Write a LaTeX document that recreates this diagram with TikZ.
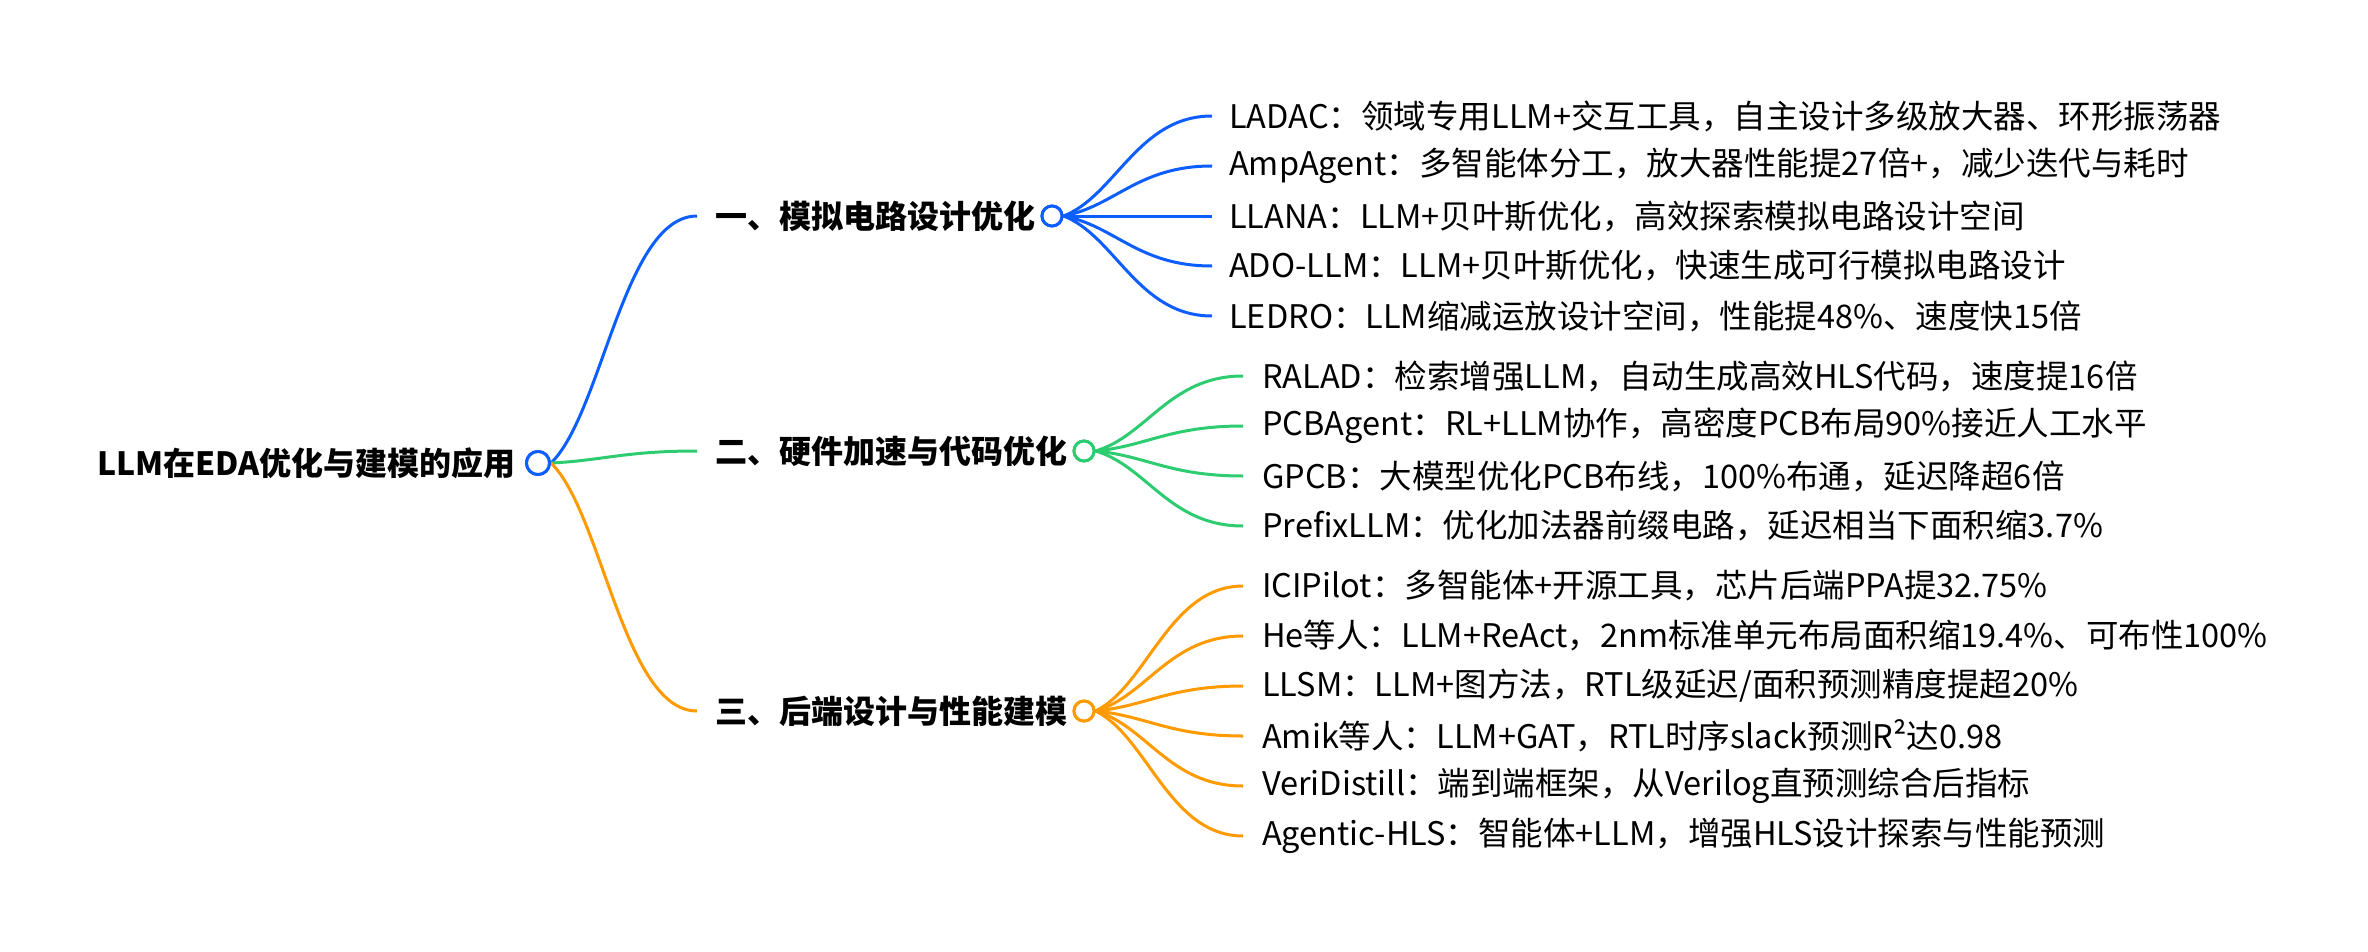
\documentclass[tikz,border=0pt]{standalone}
\usepackage{fontspec}
\setmainfont{Noto Sans CJK SC}
\usetikzlibrary{calc}
\definecolor{mmblue}{HTML}{0D5EFF}
\definecolor{mmgreen}{HTML}{2ECC71}
\definecolor{mmorange}{HTML}{FF9A00}
\newcommand\mmcurve[3]{\draw[#1] let \p1=(#2), \p2=(#3) in (\p1) .. controls ({\x1+0.35*(\x2-\x1)},{\y1+0.2*(\y2-\y1)}) and ({\x1+0.5*(\x2-\x1)},\y2) .. (\p2);}
\tikzset{
  roottext/.style={inner sep=0pt, anchor=east, font=\fontsize{32pt}{38pt}\selectfont\bfseries},
  branchtext/.style={inner sep=0pt, anchor=west, font=\fontsize{32pt}{38pt}\selectfont\bfseries},
  leaftext/.style={inner sep=0pt, anchor=west, font=\fontsize{32.5pt}{38pt}\selectfont},
  knob/.style={circle, draw=#1, fill=white, line width=3pt, minimum size=20pt, inner sep=0pt},
  link/.style={draw=#1, line width=3pt}
}
\begin{document}
\begin{tikzpicture}[x=1pt,y=-1pt]
\useasboundingbox (0,0) rectangle (2368,952);
\fill[white] (0,0) rectangle (2368,952);

% root
\node[knob=mmblue, minimum size=23pt] (rc) at (538,463) {};
\node[roottext] (rt) at (516,463) {LLM在EDA优化与建模的应用};

% branches
\node[branchtext] (b1) at (715,216) {一、模拟电路设计优化};
\node[branchtext] (b2) at (715,451) {二、硬件加速与代码优化};
\node[branchtext] (b3) at (715,711) {三、后端设计与性能建模};

\mmcurve{link=mmblue}{rc.east}{[xshift=-18pt]b1.west}
\mmcurve{link=mmgreen}{rc.east}{[xshift=-18pt]b2.west}
\mmcurve{link=mmorange}{rc.east}{[xshift=-18pt]b3.west}
\node[knob=mmblue, minimum size=23pt] at (538,463) {};

% leaves of branch 1
\node[leaftext] (l11) at (1229,116) {LADAC：领域专用LLM+交互工具，自主设计多级放大器、环形振荡器};
\node[leaftext] (l12) at (1229,166) {AmpAgent：多智能体分工，放大器性能提27倍+，减少迭代与耗时};
\node[leaftext] (l13) at (1229,216) {LLANA：LLM+贝叶斯优化，高效探索模拟电路设计空间};
\node[leaftext] (l14) at (1229,266) {ADO-LLM：LLM+贝叶斯优化，快速生成可行模拟电路设计};
\node[leaftext] (l15) at (1229,316) {LEDRO：LLM缩减运放设计空间，性能提48\%、速度快15倍};

% leaves of branch 2
\node[leaftext] (l21) at (1262,376) {RALAD：检索增强LLM，自动生成高效HLS代码，速度提16倍};
\node[leaftext] (l22) at (1262,426) {PCBAgent：RL+LLM协作，高密度PCB布局90\%接近人工水平};
\node[leaftext] (l23) at (1262,476) {GPCB：大模型优化PCB布线，100\%布通，延迟降超6倍};
\node[leaftext] (l24) at (1262,526) {PrefixLLM：优化加法器前缀电路，延迟相当下面积缩3.7\%};

% leaves of branch 3
\node[leaftext] (l31) at (1262,586) {ICIPilot：多智能体+开源工具，芯片后端PPA提32.75\%};
\node[leaftext] (l32) at (1262,636) {He等人：LLM+ReAct，2nm标准单元布局面积缩19.4\%、可布性100\%};
\node[leaftext] (l33) at (1262,686) {LLSM：LLM+图方法，RTL级延迟/面积预测精度提超20\%};
\node[leaftext] (l34) at (1262,736) {Amik等人：LLM+GAT，RTL时序slack预测R²达0.98};
\node[leaftext] (l35) at (1262,786) {VeriDistill：端到端框架，从Verilog直预测综合后指标};
\node[leaftext] (l36) at (1262,836) {Agentic-HLS：智能体+LLM，增强HLS设计探索与性能预测};

% branch knobs
\node[knob=mmblue] (c1) at (1052,216) {};
\node[knob=mmgreen] (c2) at (1084,451) {};
\node[knob=mmorange] (c3) at (1084,711) {};

\foreach \i in {1,...,5} {\mmcurve{link=mmblue}{c1.east}{[xshift=-17pt]l1\i.west}}
\foreach \i in {1,...,4} {\mmcurve{link=mmgreen}{c2.east}{[xshift=-19pt]l2\i.west}}
\foreach \i in {1,...,6} {\mmcurve{link=mmorange}{c3.east}{[xshift=-19pt]l3\i.west}}
\node[knob=mmblue] at (1052,216) {};
\node[knob=mmgreen] at (1084,451) {};
\node[knob=mmorange] at (1084,711) {};
\end{tikzpicture}
\end{document}
